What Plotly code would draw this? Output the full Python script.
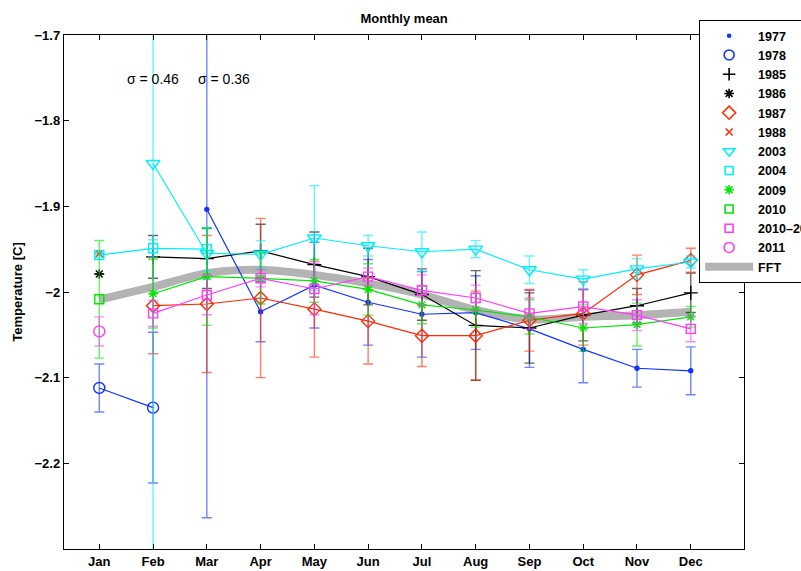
import plotly.graph_objects as go

MONTH_LABELS = ["Jan", "Feb", "Mar", "Apr", "May", "Jun",
                "Jul", "Aug", "Sep", "Oct", "Nov", "Dec"]
MONTH_NUM = list(range(1, 13))

# Monthly mean temperature [C] and its standard deviation, per year
m1977 = [3, 4, 5, 6, 7, 8, 9, 10, 11, 12]
t1977 = [-1.9035, -2.023, -1.992, -2.012, -2.026, -2.024, -2.043, -2.067, -2.089, -2.092]
s1977 = [0.36, 0.035, 0.05, 0.05, 0.05, 0.043, 0.045, 0.039, 0.022, 0.028]

m1978 = [1, 2]
t1978 = [-2.112, -2.135]
s1978 = [0.028, 0.088]

m1985 = [2, 3, 4, 5, 6, 7, 8, 9, 10, 11, 12]
t1985 = [-1.959, -1.961, -1.952, -1.968, -1.982, -2.003, -2.039, -2.042, -2.027, -2.016, -2.001]
s1985 = [0.025, 0.035, 0.031, 0.038, 0.033, 0.03, 0.064, 0.041, 0.03, 0.02, 0.023]

m1986 = [1]
t1986 = [-1.979]
s1986 = [0.0]

m1987 = [2, 3, 4, 5, 6, 7, 8, 9, 10, 11, 12]
t1987 = [-2.016, -2.014, -2.007, -2.020, -2.034, -2.051, -2.051, -2.033, -2.025, -1.980, -1.963]
s1987 = [0.056, 0.08, 0.093, 0.056, 0.05, 0.036, 0.052, 0.036, 0.037, 0.023, 0.014]

m1988 = [1]
t1988 = [-1.955]
s1988 = [0.0]

m2003 = [2, 3, 4, 5, 6, 7, 8, 9, 10, 11, 12]
t2003 = [-1.850, -1.955, -1.956, -1.937, -1.946, -1.953, -1.950, -1.974, -1.985, -1.973, -1.965]
s2003 = [0.46, 0.03, 0.016, 0.061, 0.012, 0.023, 0.01, 0.016, 0.011, 0.012, 0.007]

m2004 = [1, 2, 3]
t2004 = [-1.957, -1.949, -1.950]
s2004 = [0.003, 0.01, 0.025]

m2009 = [2, 3, 4, 5, 6, 7, 8, 9, 10, 11, 12]
t2009 = [-2.002, -1.982, -1.984, -1.987, -1.997, -2.015, -2.021, -2.029, -2.042, -2.038, -2.029]
s2009 = [0.04, 0.057, 0.03, 0.025, 0.03, 0.022, 0.02, 0.02, 0.027, 0.025, 0.012]

m2010 = [1]
t2010 = [-2.0085]
s2010 = [0.0687]

m2010_11 = [2, 3, 4, 5, 6, 7, 8, 9, 10, 11, 12]
t2010_11 = [-2.025, -2.0035, -1.984, -1.9965, -1.982, -1.998, -2.007, -2.025, -2.017, -2.027, -2.043]
s2010_11 = [0.015, 0.023, 0.01, 0.03, 0.01, 0.018, 0.015, 0.018, 0.02, 0.018, 0.015]

m2011 = [1]
t2011 = [-2.046]
s2011 = [0.017]

# Smooth annual cycle (FFT fit)
t_fft = [-2.009, -1.994, -1.978, -1.974, -1.980, -1.990,
         -2.003, -2.021, -2.032, -2.029, -2.027, -2.023]

BLUE = "#1432ff"
BLACK = "#000000"
RED = "#ff2a00"
CYAN = "#00eeff"
GREEN = "#00e600"
MAGENTA = "#ff3cff"


def rgba(hex_color, a):
    h = hex_color.lstrip("#")
    r, g, b = int(h[0:2], 16), int(h[2:4], 16), int(h[4:6], 16)
    return f"rgba({r},{g},{b},{a})"


# name, months, means, std, colour, symbol, marker size in plot, marker size in legend
series = [
    ("1977", m1977, t1977, s1977, BLUE, "circle", 4, 3),
    ("1978", m1978, t1978, s1978, BLUE, "circle-open", 11, 10),
    ("1985", m1985, t1985, s1985, BLACK, "cross-thin-open", 10, 9),
    ("1986", m1986, t1986, s1986, BLACK, "asterisk-open", 8, 8),
    ("1987", m1987, t1987, s1987, RED, "diamond-open", 10, 10),
    ("1988", m1988, t1988, s1988, RED, "x-thin-open", 7, 7),
    ("2003", m2003, t2003, s2003, CYAN, "triangle-down-open", 12, 10),
    ("2004", m2004, t2004, s2004, CYAN, "square-open", 9, 8),
    ("2009", m2009, t2009, s2009, GREEN, "asterisk-open", 8, 8),
    ("2010", m2010, t2010, s2010, GREEN, "square-open", 9, 8),
    ("2010\u20132011", m2010_11, t2010_11, s2010_11, MAGENTA, "square-open", 9, 8),
    ("2011", m2011, t2011, s2011, MAGENTA, "circle-open", 11, 10),
]

fig = go.Figure()

# annual cycle drawn underneath the yearly curves
fig.add_trace(go.Scatter(
    x=MONTH_NUM, y=t_fft, mode="lines", name="FFT",
    line=dict(color="#b3b3b3", width=8, shape="spline", smoothing=0.8),
    legendrank=100, showlegend=True,
))

for i, (name, months, temps, sig, color, symbol, size, lsize) in enumerate(series):
    fig.add_trace(go.Scatter(
        x=months, y=temps, mode="lines+markers", name=name,
        line=dict(color=color, width=1.2),
        marker=dict(symbol=symbol, size=size, color=color,
                    line=dict(color=color, width=1.4)),
        error_y=dict(type="data", array=sig, visible=True,
                     color=rgba(color, 0.6), thickness=1.4, width=5),
        showlegend=False,
    ))
    # legend entry shows only the marker
    fig.add_trace(go.Scatter(
        x=[None], y=[None], mode="markers", name=name,
        marker=dict(symbol=symbol, size=lsize, color=color,
                    line=dict(color=color, width=1.6)),
        legendrank=i + 1,
    ))

# standard deviations of the two off-scale bars
fig.add_annotation(x=2, y=-1.7515, xref="x", yref="y",
                   text=f"\u03c3 = {s2003[0]:.2f}", showarrow=False,
                   font=dict(family="Liberation Sans", size=14, color="black"))
fig.add_annotation(x=3.325, y=-1.7515, xref="x", yref="y",
                   text=f"\u03c3 = {s1977[0]:.2f}", showarrow=False,
                   font=dict(family="Liberation Sans", size=14, color="black"))

axis_common = dict(
    showline=True, linecolor="black", linewidth=1.4, mirror="ticks",
    ticks="inside", ticklen=5, tickwidth=1, tickcolor="black",
    showgrid=False, zeroline=False,
    tickfont=dict(family="Liberation Sans", size=13, color="black", weight="bold"),
)

fig.update_layout(
    width=801, height=571,
    margin=dict(l=64, r=57, t=35, b=22, autoexpand=False),
    paper_bgcolor="white", plot_bgcolor="white",
    title=dict(text="Monthly mean", x=0.5045, xanchor="center", y=0.968, yanchor="middle",
               font=dict(family="Liberation Sans", size=13, color="black", weight="bold")),
    xaxis=dict(range=[0.344, 12.99], tickvals=MONTH_NUM, ticktext=MONTH_LABELS,
               **axis_common),
    yaxis=dict(range=[-2.3, -1.7], tickvals=[-2.2, -2.1, -2.0, -1.9, -1.8, -1.7],
               ticktext=["\u22122.2", "\u22122.1", "\u22122", "\u22121.9", "\u22121.8", "\u22121.7"],
               title=dict(text="Temperature [C]", standoff=8,
                          font=dict(family="Liberation Sans", size=13, color="black", weight="bold")),
               **axis_common),
    legend=dict(x=0.934, y=1.029, xanchor="left", yanchor="top",
                bgcolor="white", bordercolor="black", borderwidth=1,
                itemwidth=48, tracegroupgap=0, traceorder="normal",
                font=dict(family="Liberation Sans", size=12.5, color="black", weight="bold")),
    showlegend=True,
)

fig.write_html("out.html")
